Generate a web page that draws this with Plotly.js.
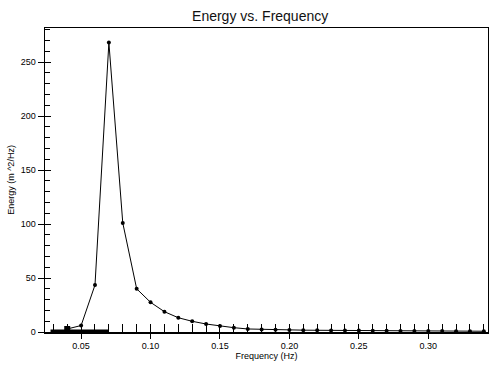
<!DOCTYPE html>
<html>
<head>
<meta charset="utf-8">
<script src="https://cdn.plot.ly/plotly-3.0.1.min.js"></script>
<style>html,body{margin:0;padding:0;background:#fff;}#chart{width:489px;height:365px;}</style>
</head>
<body>
<div id="chart"></div>
<script>
var frequency = [0.04,0.05,0.06,0.07,0.08,0.09,0.10,0.11,0.12,0.13,0.14,0.15,0.16,0.17,0.18,0.19,0.20,0.21,0.22,0.23,0.24,0.25,0.26,0.27,0.28,0.29,0.30,0.31,0.32,0.33,0.34];
var energy = [2.8,6,43.5,268,101,40,27.5,18.8,13.2,9.9,7.4,5.6,4.0,2.8,2.4,2.1,1.9,1.7,1.6,1.5,1.4,1.3,1.2,1.1,1.0,1.0,0.9,0.9,0.8,0.8,0.7];
var bandX = [0.028,0.07];
var bandY = [0,0];
var xTickVals = [0.05,0.10,0.15,0.20,0.25,0.30];
var xTickText = ['0.05','0.10','0.15','0.20','0.25','0.30'];
var yTickVals = [0,50,100,150,200,250];

var font = 'Liberation Sans, Arial, sans-serif';
var traces = [
  {x: bandX, y: bandY, mode: 'lines', line: {color: '#000', width: 5}, hoverinfo: 'skip', showlegend: false},
  {x: frequency, y: energy, mode: 'lines+markers', line: {color: '#000', width: 1},
   marker: {color: '#000', size: 4}, cliponaxis: false, showlegend: false}
];
var layout = {
  width: 489, height: 365,
  margin: {l: 45, r: 1, t: 28, b: 33},
  paper_bgcolor: '#fff', plot_bgcolor: '#fff',
  font: {family: font, color: '#000', size: 9},
  title: {text: 'Energy vs. Frequency', font: {family: font, size: 14, color: '#111'},
          x: 0.532, xref: 'container', xanchor: 'center', y: 0.955, yref: 'container', yanchor: 'middle'},
  xaxis: {range: [0.024, 0.343], tickvals: xTickVals, ticktext: xTickText,
          ticks: 'outside', ticklen: 5, tickcolor: '#000', tickwidth: 1,
          minor: {dtick: 0.01, tick0: 0, ticks: 'inside', ticklen: 8, tickcolor: '#000', showgrid: false},
          showgrid: false, zeroline: false, showline: true, linecolor: '#000', linewidth: 1.5, mirror: true,
          tickfont: {size: 9, family: font},
          title: {text: 'Frequency (Hz)', font: {size: 9, family: font}, standoff: 0}},
  yaxis: {range: [0, 281.5], tickvals: yTickVals,
          ticks: 'outside', ticklen: 6, tickcolor: '#000', tickwidth: 1,
          minor: {dtick: 10, tick0: 0, ticks: 'inside', ticklen: 5, tickcolor: '#000', showgrid: false},
          showgrid: false, zeroline: false, showline: true, linecolor: '#000', linewidth: 1.5, mirror: true,
          tickfont: {size: 9, family: font},
          title: {text: 'Energy (m ^2/Hz)', font: {size: 9, family: font}, standoff: 4}},
  xaxis2: {overlaying: 'x', matches: 'x', range: [0.024, 0.343], tickvals: xTickVals, ticks: 'inside', ticklen: 8,
           tickcolor: '#000', showticklabels: false, showgrid: false, zeroline: false, side: 'bottom', anchor: 'y'},
  yaxis2: {overlaying: 'y', range: [0, 281.5], tickvals: yTickVals, ticks: 'inside', ticklen: 6,
           tickcolor: '#000', showticklabels: false, showgrid: false, zeroline: false, side: 'left', anchor: 'x'}
};
traces.push({x: [frequency[0]], y: [energy[0]], xaxis: 'x2', yaxis: 'y2', mode: 'markers',
             marker: {color: '#000', size: 6, symbol: 'square'}, showlegend: false, hoverinfo: 'skip'});
Plotly.newPlot('chart', traces, layout, {displayModeBar: false, staticPlot: true});
</script>
</body>
</html>
